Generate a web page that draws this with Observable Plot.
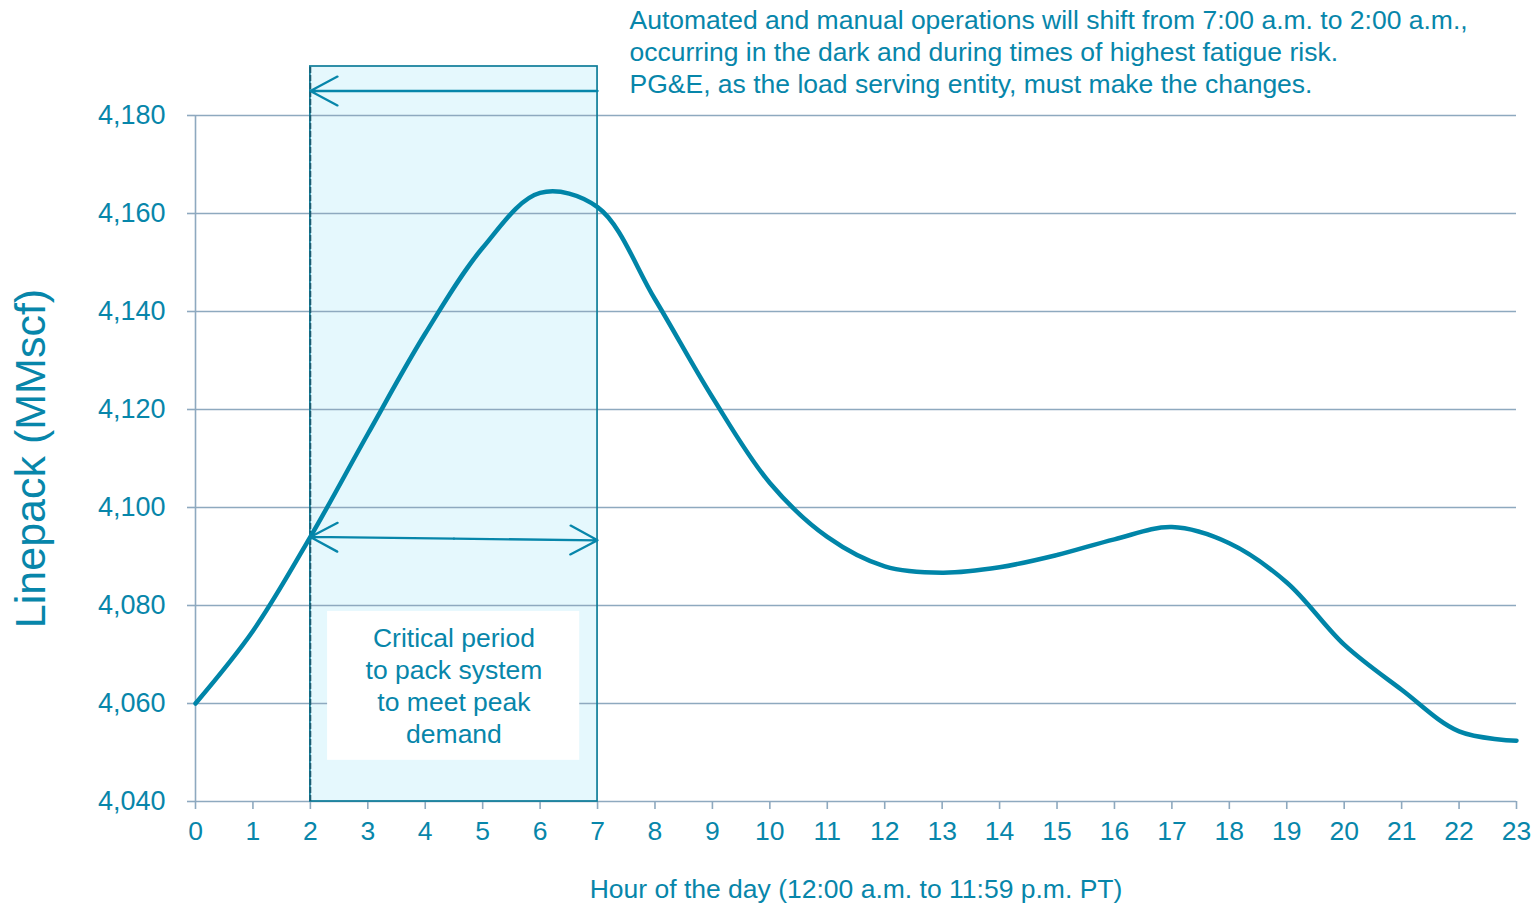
<!DOCTYPE html>
<html>
<head>
<meta charset="utf-8">
<script src="https://cdn.jsdelivr.net/npm/d3@7"></script>
<script src="https://cdn.jsdelivr.net/npm/@observablehq/plot@0.6"></script>
<style>
  html, body { margin: 0; padding: 0; background: #ffffff; }
  #chart svg { display: block; }
</style>
</head>
<body>
<div id="chart"></div>
<script>
// ---- Data ----
const hours = [0, 1, 2, 3, 4, 5, 6, 7, 8, 9, 10, 11, 12, 13, 14, 15, 16, 17, 18, 19, 20, 21, 22, 23];
const linepack = [4060, 4074.8, 4094, 4115, 4135.5, 4153, 4164.2, 4161.3, 4142.5, 4122.5, 4105, 4094,
                  4088, 4086.7, 4087.8, 4090.3, 4093.5, 4096, 4092.7, 4084.7, 4072, 4062.8, 4054.3, 4052.4];
const yTicks = [4040, 4060, 4080, 4100, 4120, 4140, 4160, 4180];
const criticalPeriod = [2, 7];            // hours (start, end)
const criticalTop = 4190;                  // top of shaded annotation box (MMscf)
const shiftArrowLevel = 4185;              // "shift from 7:00 to 2:00" arrow
const packArrowLevels = [4094, 4093.3];    // double arrow at start / end of period
const labelBox = {x1: 2.3, x2: 6.69, y1: 4048.4, y2: 4078.8};
const boxLabel = ["Critical period", "to pack system", "to meet peak", "demand"];
const noteLines = [
  "Automated and manual operations will shift from 7:00 a.m. to 2:00 a.m.,",
  "occurring in the dark and during times of highest fatigue risk.",
  "PG&E, as the load serving entity, must make the changes."
];
const xTitle = "Hour of the day (12:00 a.m. to 11:59 p.m. PT)";
const yTitle = "Linepack (MMscf)";

// ---- Styles ----
const TEAL = "#0786AA";
const LINE = "#0085A8";
const GRID = "#8EA9BF";
const BOXFILL = "#E5F8FD";
const BOXEDGE = "#0F7D99";
const DASH = "#1B5D72";
const FONT = "'Liberation Sans', Arial, sans-serif";

const series = hours.map((h, i) => ({hour: h, value: linepack[i]}));
const [p0, p1] = criticalPeriod;
const pMid = (p0 + p1) / 2;

const chart = Plot.plot({
  width: 1536,
  height: 903,
  marginLeft: 195,
  marginRight: 20,
  marginTop: 115,
  marginBottom: 102,
  style: {fontFamily: FONT, background: "#ffffff"},
  x: {domain: [0, 23], label: null},
  y: {domain: [4040, 4180], label: null},
  marks: [
    // shaded critical-period box (fill)
    Plot.rect([{x1: p0, x2: p1, y1: 4040, y2: criticalTop}], {
      x1: "x1", x2: "x2", y1: "y1", y2: "y2", fill: BOXFILL
    }),
    // gridlines
    Plot.ruleY(yTicks.filter(d => d > 4040), {stroke: GRID, strokeWidth: 1.6}),
    Plot.ruleX([0], {stroke: GRID, strokeWidth: 1.6}),
    Plot.ruleY([4040], {stroke: GRID, strokeWidth: 1.6}),
    // axes
    Plot.axisY({
      ticks: yTicks, tickFormat: d3.format(","), tickSize: 8, tickPadding: 22,
      stroke: GRID, strokeWidth: 1.6, fill: TEAL, fontSize: 27, label: null
    }),
    Plot.axisX({
      ticks: hours, tickFormat: d => String(d), tickSize: 8, tickPadding: 12,
      stroke: GRID, strokeWidth: 1.6, fill: TEAL, fontSize: 26.5, label: null
    }),
    // box outline
    Plot.rect([{x1: p0, x2: p1, y1: 4040, y2: criticalTop}], {
      x1: "x1", x2: "x2", y1: "y1", y2: "y2", fill: "none", stroke: BOXEDGE, strokeWidth: 1.7
    }),
    Plot.ruleX([p0], {y1: 4040, y2: criticalTop, stroke: DASH, strokeWidth: 1.8, strokeDasharray: "6,2"}),
    // the linepack curve
    Plot.line(series, {x: "hour", y: "value", stroke: LINE, strokeWidth: 4.5, curve: "catmull-rom"}),
    // arrows
    Plot.arrow([{x1: p1, y1: shiftArrowLevel, x2: p0, y2: shiftArrowLevel}], {
      x1: "x1", y1: "y1", x2: "x2", y2: "y2", stroke: TEAL, strokeWidth: 2.3, headLength: 20, headAngle: 56
    }),
    Plot.arrow([
      {x1: pMid, y1: (packArrowLevels[0] + packArrowLevels[1]) / 2, x2: p0, y2: packArrowLevels[0]},
      {x1: pMid, y1: (packArrowLevels[0] + packArrowLevels[1]) / 2, x2: p1, y2: packArrowLevels[1]}
    ], {
      x1: "x1", y1: "y1", x2: "x2", y2: "y2", stroke: TEAL, strokeWidth: 2.3, headLength: 20, headAngle: 56
    }),
    // white label box and its text
    Plot.rect([labelBox], {x1: "x1", x2: "x2", y1: "y1", y2: "y2", fill: "#ffffff"}),
    Plot.text([boxLabel.join("\n")], {
      x: pMid, y: (labelBox.y1 + labelBox.y2) / 2, text: d => d, dy: -1,
      fill: TEAL, fontSize: 26.5, lineHeight: 1.2075, textAnchor: "middle", lineAnchor: "middle"
    }),
    // top note
    Plot.text([noteLines.join("\n")], {
      frameAnchor: "top-left", text: d => d, dx: 434, dy: -65,
      fill: TEAL, fontSize: 26.5, lineHeight: 1.2075, textAnchor: "start", lineAnchor: "middle"
    }),
    // axis titles
    Plot.text([xTitle], {
      frameAnchor: "bottom", text: d => d, dy: 88,
      fill: TEAL, fontSize: 26.5, lineAnchor: "middle"
    }),
    Plot.text([yTitle], {
      frameAnchor: "left", text: d => d, dx: -164, rotate: -90,
      fill: TEAL, fontSize: 43, lineAnchor: "middle", textAnchor: "middle"
    })
  ]
});

document.getElementById("chart").appendChild(chart);
</script>
</body>
</html>
